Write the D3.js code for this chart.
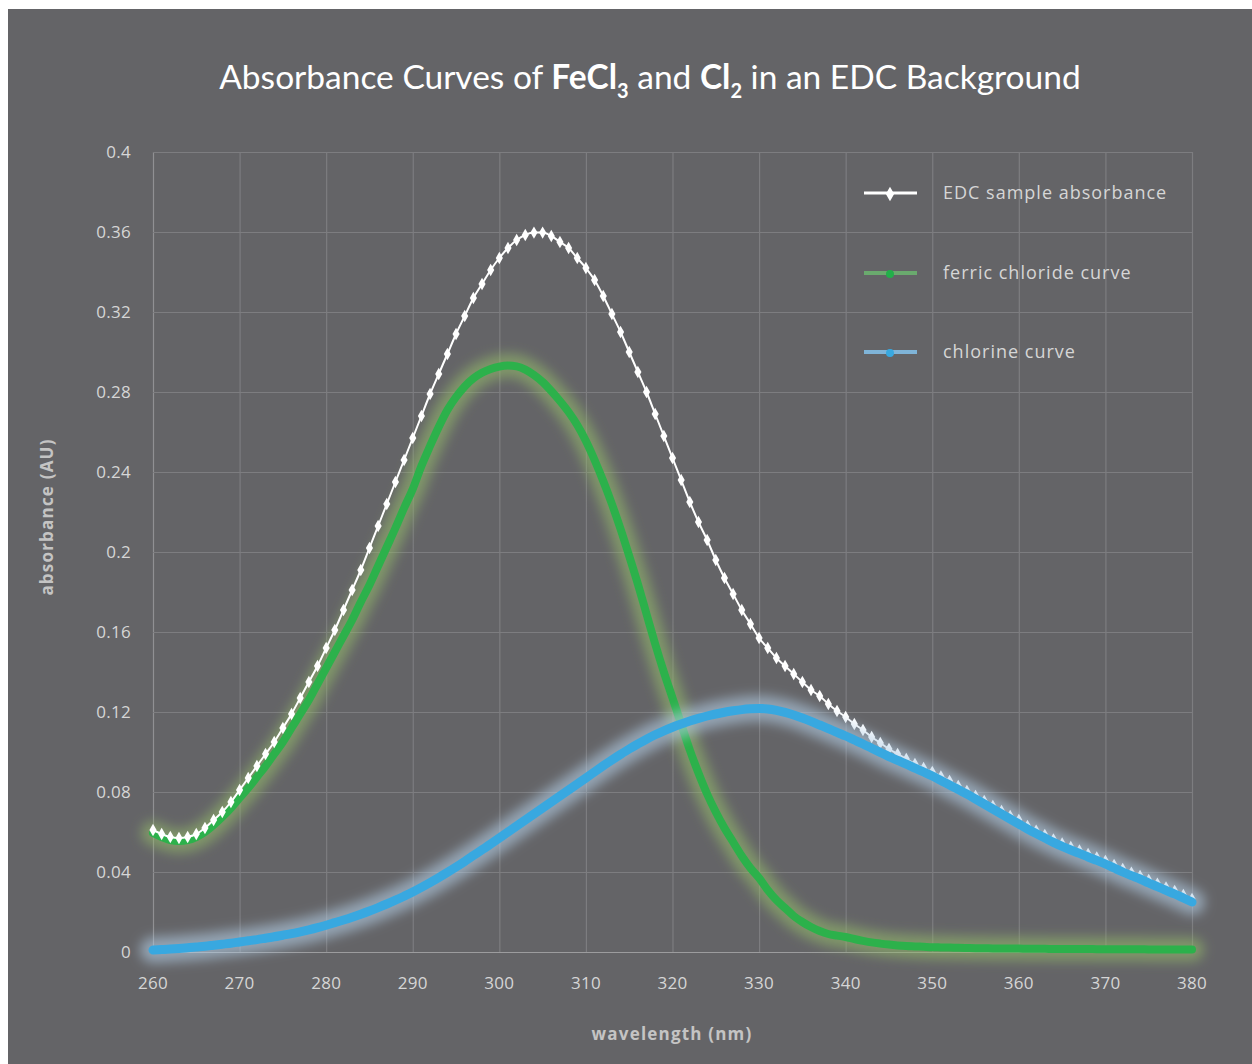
<!DOCTYPE html>
<html>
<head>
<meta charset="utf-8">
<script src="https://cdn.jsdelivr.net/npm/d3@7"></script>
<style>
  body { margin: 0; background: #fff; }
  svg { display: block; }
</style>
</head>
<body>
<script>
// wavelengths 260..380 nm, one reading per nm
var wavelengths = d3.range(260, 381, 1);

var edcValues = [
  0.061,0.059,0.0575,0.057,0.0575,0.059,0.062,0.066,0.070,0.075,
  0.081,0.087,0.093,0.099,0.105,0.112,0.119,0.127,0.135,0.143,
  0.152,0.161,0.171,0.181,0.191,0.202,0.213,0.224,0.235,0.246,
  0.257,0.268,0.279,0.289,0.299,0.309,0.318,0.327,0.334,0.341,
  0.347,0.352,0.356,0.3585,0.3597,0.3597,0.358,0.355,0.352,0.347,
  0.342,0.336,0.328,0.319,0.310,0.300,0.290,0.280,0.269,0.258,
  0.247,0.236,0.225,0.215,0.206,0.196,0.187,0.179,0.171,0.164,
  0.157,0.152,0.147,0.143,0.139,0.135,0.131,0.128,0.124,0.1205,
  0.1175,0.114,0.111,0.1075,0.1045,0.1015,0.099,0.0965,0.094,0.092,
  0.090,0.0878,0.0855,0.083,0.0805,0.078,0.0755,0.073,0.0705,0.068,
  0.066,0.063,0.0607,0.0585,0.0563,0.0543,0.0525,0.0508,0.049,0.0473,
  0.0455,0.0435,0.0415,0.0397,0.038,0.036,0.0342,0.0323,0.0305,0.0285,
  0.0265
];

var ferricValues = [
  0.0595,0.0575,0.056,0.0555,0.056,0.0575,0.060,0.0635,0.0675,0.072,
  0.077,0.082,0.0875,0.093,0.099,0.105,0.112,0.119,0.126,0.134,
  0.142,0.150,0.158,0.166,0.175,0.1835,0.193,0.2025,0.212,0.222,
  0.2315,0.243,0.253,0.2625,0.271,0.2775,0.2828,0.2868,0.2896,0.2915,
  0.2927,0.2932,0.2928,0.2912,0.2885,0.285,0.2805,0.2755,0.270,0.2635,
  0.2555,0.246,0.2355,0.224,0.2115,0.198,0.184,0.169,0.154,0.140,
  0.127,0.114,0.101,0.0895,0.079,0.070,0.062,0.055,0.048,0.042,
  0.037,0.031,0.026,0.022,0.018,0.015,0.0125,0.0105,0.009,0.0082,
  0.0075,0.0065,0.0056,0.0048,0.0042,0.0037,0.0033,0.003,0.0028,0.0026,
  0.0024,0.0023,0.0022,0.0021,0.002,0.0019,0.0019,0.0018,0.0018,0.0017,
  0.0017,0.0016,0.0016,0.0016,0.0015,0.0015,0.0015,0.0015,0.0015,0.0014,
  0.0014,0.0014,0.0014,0.0014,0.0014,0.0013,0.0013,0.0013,0.0013,0.0013,
  0.0013
];

var chlorineValues = [
  0.0010,0.0012,0.0015,0.0018,0.0021,0.0025,0.0029,0.0034,0.0039,0.0044,
  0.0050,0.0056,0.0062,0.0069,0.0076,0.0084,0.0092,0.0101,0.0111,0.0122,
  0.0134,0.0147,0.0160,0.0174,0.0189,0.0205,0.0222,0.0240,0.0259,0.0279,
  0.0300,0.0323,0.0347,0.0372,0.0398,0.0425,0.0453,0.0482,0.0511,0.0540,
  0.0570,0.0600,0.0630,0.0660,0.0690,0.0720,0.0750,0.0780,0.0810,0.0840,
  0.0870,0.0901,0.0931,0.0960,0.0988,0.1015,0.1040,0.1064,0.1086,0.1106,
  0.1124,0.1140,0.1155,0.1168,0.1180,0.1190,0.1199,0.1206,0.1212,0.1216,
  0.1218,0.1215,0.1208,0.1198,0.1185,0.1170,0.1153,0.1135,0.1117,0.1098,
  0.1080,0.1060,0.1040,0.1019,0.0998,0.0977,0.0958,0.0939,0.0919,0.0900,
  0.0880,0.0857,0.0835,0.0812,0.0790,0.0765,0.0740,0.0715,0.0690,0.0665,
  0.0640,0.0615,0.0592,0.0570,0.0548,0.0528,0.0510,0.0493,0.0475,0.0458,
  0.0440,0.0420,0.0400,0.0382,0.0365,0.0345,0.0327,0.0308,0.0290,0.0270,
  0.0250
];

var xTicks = [260,270,280,290,300,310,320,330,340,350,360,370,380];
var yTicks = [0,0.04,0.08,0.12,0.16,0.2,0.24,0.28,0.32,0.36,0.4];
var yTickLabels = ["0","0.04","0.08","0.12","0.16","0.2","0.24","0.28","0.32","0.36","0.4"];
var seriesNames = ["EDC sample absorbance","ferric chloride curve","chlorine curve"];

(function(){
  var W = 1252, H = 1064;
  var bg = "#646467", grid = "#7d7d80", label = "#d6d6d6";

  var svg = d3.select("body").append("svg")
      .attr("width", W)
      .attr("height", H);

  var defs = svg.append("defs");
  defs.append("filter").attr("id", "blurG")
      .attr("x", "-20%").attr("y", "-30%").attr("width", "140%").attr("height", "160%")
    .append("feGaussianBlur").attr("stdDeviation", 6);

  svg.append("rect")
      .attr("x", 8).attr("y", 9)
      .attr("width", W - 8).attr("height", H - 9)
      .attr("fill", bg);

  var x = d3.scaleLinear().domain([260, 380]).range([153, 1192]);
  var y = d3.scaleLinear().domain([0, 0.4]).range([952, 152]);

  // grid
  var gx = svg.append("g")
      .attr("transform", "translate(0,952)")
      .call(d3.axisBottom(x).tickValues(xTicks).tickSize(-800).tickFormat(""));
  var gy = svg.append("g")
      .attr("transform", "translate(153,0)")
      .call(d3.axisLeft(y).tickValues(yTicks).tickSize(-1039).tickFormat(""));
  [gx, gy].forEach(function(g){
    g.select(".domain").remove();
    g.selectAll("line").attr("stroke", grid).attr("stroke-width", 1.2);
  });
  gy.selectAll(".tick").filter(function(d){ return d === 0; }).select("line").attr("stroke", "#9c9c9e");
  gx.selectAll(".tick").filter(function(d){ return d === 260; }).select("line").attr("stroke", "#909093");

  // tick labels
  svg.append("g").selectAll("text")
      .data(yTicks)
    .enter().append("text")
      .attr("x", 131)
      .attr("y", function(d){ return y(d) + 6; })
      .attr("text-anchor", "end")
      .attr("fill", label)
      .style("font", "17px 'Open Sans', sans-serif")
      .style("letter-spacing", "0.3px")
      .text(function(d, i){ return yTickLabels[i]; });

  svg.append("g").selectAll("text")
      .data(xTicks)
    .enter().append("text")
      .attr("x", function(d){ return x(d); })
      .attr("y", 989)
      .attr("text-anchor", "middle")
      .attr("fill", label)
      .style("font", "17px 'Open Sans', sans-serif")
      .style("letter-spacing", "0.3px")
      .text(function(d){ return d; });

  // axis titles
  svg.append("text")
      .attr("transform", "translate(53,517) rotate(-90)")
      .attr("text-anchor", "middle")
      .attr("fill", "#c4c4c4")
      .style("font", "bold 17px 'Open Sans', sans-serif")
      .style("letter-spacing", "1.2px")
      .text("absorbance (AU)");
  svg.append("text")
      .attr("x", 672).attr("y", 1040)
      .attr("text-anchor", "middle")
      .attr("fill", "#c4c4c4")
      .style("font", "bold 17px 'Open Sans', sans-serif")
      .style("letter-spacing", "1.2px")
      .text("wavelength (nm)");

  // title
  var title = svg.append("text")
      .attr("x", 650).attr("y", 89)
      .attr("text-anchor", "middle")
      .attr("fill", "#ffffff")
      .style("font-family", "Lato, 'Open Sans', sans-serif")
      .style("font-size", "33.5px");
  title.append("tspan").text("Absorbance Curves of ");
  title.append("tspan").style("font-weight", "bold").text("FeCl");
  title.append("tspan").attr("dy", 9).style("font-size", "20px").style("font-weight", "bold").text("3");
  title.append("tspan").attr("dy", -9).text(" and ");
  title.append("tspan").style("font-weight", "bold").text("Cl");
  title.append("tspan").attr("dy", 9).style("font-size", "20px").style("font-weight", "bold").text("2");
  title.append("tspan").attr("dy", -9).text(" in an EDC Background");

  var line = d3.line()
      .x(function(d){ return x(d[0]); })
      .y(function(d){ return y(d[1]); })
      .curve(d3.curveMonotoneX);

  var edc = wavelengths.map(function(w, i){ return [w, edcValues[i]]; });
  var ferric = wavelengths.map(function(w, i){ return [w, ferricValues[i]]; });
  var chlorine = wavelengths.map(function(w, i){ return [w, chlorineValues[i]]; });

  // ferric chloride (glow + core)
  svg.append("path").datum(ferric)
      .attr("d", line).attr("fill", "none")
      .attr("stroke", "#92b86a").attr("stroke-width", 24)
      .attr("stroke-opacity", 0.6).attr("stroke-linecap", "round")
      .attr("filter", "url(#blurG)");
  svg.append("path").datum(ferric)
      .attr("d", line).attr("fill", "none")
      .attr("stroke", "#2cb14b").attr("stroke-width", 8)
      .attr("stroke-linecap", "round");

  // EDC sample line with diamond markers
  svg.append("path").datum(edc)
      .attr("d", line).attr("fill", "none")
      .attr("stroke", "#ffffff").attr("stroke-width", 2);
  svg.append("g").selectAll("path")
      .data(edc)
    .enter().append("path")
      .attr("transform", function(d){ return "translate(" + x(d[0]) + "," + y(d[1]) + ")"; })
      .attr("d", d3.symbol(d3.symbolDiamond).size(44))
      .attr("fill", "#ffffff");

  // chlorine (glow + core)
  svg.append("path").datum(chlorine)
      .attr("d", line).attr("fill", "none")
      .attr("stroke", "#b2cde4").attr("stroke-width", 26)
      .attr("stroke-opacity", 0.6).attr("stroke-linecap", "round")
      .attr("filter", "url(#blurG)");
  svg.append("path").datum(chlorine)
      .attr("d", line).attr("fill", "none")
      .attr("stroke", "#38a8e0").attr("stroke-width", 9)
      .attr("stroke-linecap", "round");

  // legend
  var legendY = [193, 273, 352];
  var legendLine = ["#ffffff", "#6aaa6e", "#7fb4d8"];
  var legendDot = ["#ffffff", "#22b04a", "#38a8e0"];
  var lg = svg.append("g").selectAll("g")
      .data(seriesNames)
    .enter().append("g")
      .attr("transform", function(d, i){ return "translate(0," + legendY[i] + ")"; });
  lg.append("line")
      .attr("x1", 864).attr("x2", 917)
      .attr("stroke", function(d, i){ return legendLine[i]; })
      .attr("stroke-width", function(d, i){ return i === 0 ? 3 : 4; });
  lg.append("path")
      .attr("transform", "translate(890,1)")
      .attr("d", function(d, i){
        return d3.symbol(i === 0 ? d3.symbolDiamond : d3.symbolCircle).size(i === 0 ? 60 : 50)();
      })
      .attr("fill", function(d, i){ return legendDot[i]; });
  lg.append("text")
      .attr("x", 943).attr("y", 6)
      .attr("fill", label)
      .style("font", "18px 'Open Sans', sans-serif")
      .style("letter-spacing", "1px")
      .text(function(d){ return d; });
})();
</script>
</body>
</html>
